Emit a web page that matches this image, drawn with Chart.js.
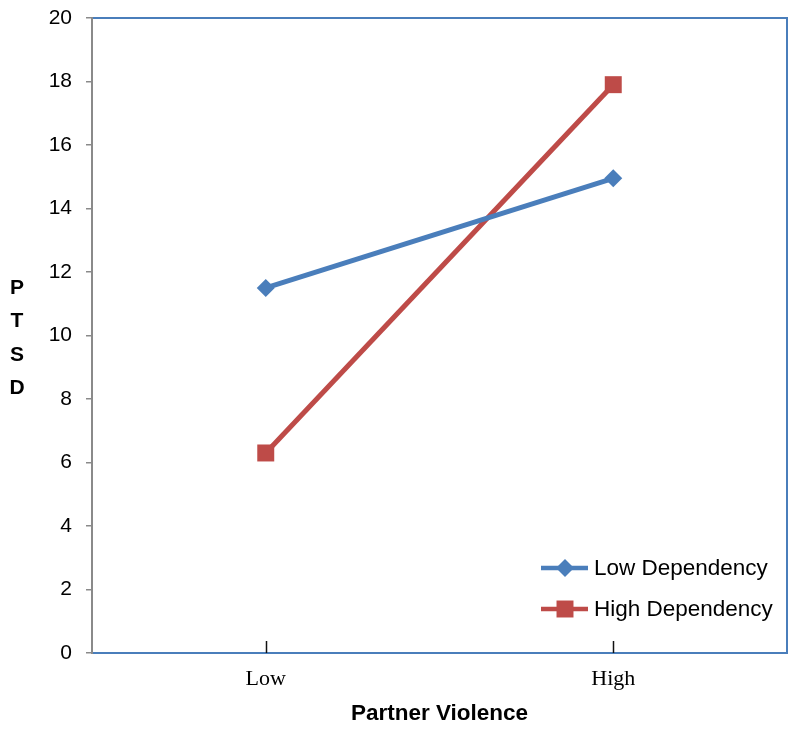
<!DOCTYPE html>
<html>
<head>
<meta charset="utf-8">
<script src="https://cdn.jsdelivr.net/npm/chart.js@4/dist/chart.umd.min.js"></script>
<style>
  html, body { margin: 0; padding: 0; background: #fff; }
  #wrap { width: 799px; height: 731px; }
</style>
</head>
<body>
<div id="wrap"><canvas id="ptsdChart"></canvas></div>
<script>
var categories = ['Low', 'High'];
var lowDependency = [11.5, 14.95];
var highDependency = [6.3, 17.9];
var yTicks = [0, 2, 4, 6, 8, 10, 12, 14, 16, 18, 20];

var blue = '#4A7EBB';
var red = '#BE4B48';

// frame, inner x ticks, stacked y title and the in-plot legend
var decorations = {
  id: 'decorations',
  afterDraw: function (chart) {
    var ctx = chart.ctx;
    var a = chart.chartArea;
    var xs = chart.scales.x;
    ctx.save();
    ctx.strokeStyle = blue;
    ctx.lineWidth = 2;
    ctx.beginPath();
    ctx.moveTo(a.left, a.top);
    ctx.lineTo(a.right, a.top);
    ctx.lineTo(a.right, a.bottom);
    ctx.lineTo(a.left, a.bottom);
    ctx.stroke();
    ctx.strokeStyle = '#8a8a8a';
    ctx.beginPath();
    ctx.moveTo(a.left, a.top - 1);
    ctx.lineTo(a.left, a.bottom + 1);
    ctx.stroke();

    ctx.strokeStyle = '#111';
    ctx.lineWidth = 1.5;
    for (var i = 0; i < categories.length; i++) {
      var px = Math.round(xs.getPixelForTick(i)) + 0.5;
      ctx.beginPath();
      ctx.moveTo(px, a.bottom - 12);
      ctx.lineTo(px, a.bottom);
      ctx.stroke();
    }

    ctx.fillStyle = '#000';
    ctx.font = 'bold 21px "Liberation Sans", Arial, sans-serif';
    ctx.textAlign = 'center';
    ctx.textBaseline = 'middle';
    var letters = ['P', 'T', 'S', 'D'];
    for (var j = 0; j < letters.length; j++) {
      ctx.fillText(letters[j], 17, 288 + j * 33.5);
    }

    var items = chart.data.datasets;
    ctx.font = '22.5px "Liberation Sans", Arial, sans-serif';
    ctx.textAlign = 'left';
    for (var k = 0; k < items.length; k++) {
      var y = 568 + k * 41;
      ctx.strokeStyle = items[k].borderColor;
      ctx.lineWidth = 4.5;
      ctx.beginPath();
      ctx.moveTo(541, y);
      ctx.lineTo(588, y);
      ctx.stroke();
      ctx.fillStyle = items[k].backgroundColor;
      Chart.helpers.drawPoint(ctx, {
        pointStyle: items[k].pointStyle,
        radius: items[k].pointRadius,
        borderWidth: 0
      }, 565, y);
      ctx.fillStyle = '#000';
      ctx.fillText(items[k].label, 594, y + 1);
    }
    ctx.restore();
  }
};

new Chart(document.getElementById('ptsdChart').getContext('2d'), {
  type: 'line',
  data: {
    labels: categories,
    datasets: [{
      label: 'Low Dependency',
      data: lowDependency,
      borderColor: blue,
      backgroundColor: blue,
      borderWidth: 5,
      pointStyle: 'rectRot',
      pointRadius: 9,
      pointBorderWidth: 0
    }, {
      label: 'High Dependency',
      data: highDependency,
      borderColor: red,
      backgroundColor: red,
      borderWidth: 5,
      pointStyle: 'rect',
      pointRadius: 12,
      pointBorderWidth: 0
    }]
  },
  options: {
    responsive: true,
    maintainAspectRatio: false,
    animation: false,
    layout: { padding: { top: 18, right: 6, left: 0, bottom: 0 } },
    plugins: {
      legend: { display: false },
      tooltip: { enabled: false }
    },
    scales: {
      x: {
        offset: true,
        grid: { display: false },
        border: { display: false },
        ticks: {
          color: '#000',
          padding: 5,
          font: { family: '"Liberation Serif", "Times New Roman", serif', size: 22 }
        },
        title: {
          display: true,
          text: 'Partner Violence',
          color: '#000',
          padding: { top: 10, bottom: 4 },
          font: { family: '"Liberation Sans", Arial, sans-serif', size: 22.5, weight: 'bold' }
        },
        afterFit: function (s) { s.height = 78; s.paddingLeft = 0; s.paddingRight = 0; }
      },
      y: {
        min: 0,
        max: 20,
        afterBuildTicks: function (s) {
          s.ticks = yTicks.map(function (v) { return { value: v }; });
        },
        grid: {
          drawOnChartArea: false,
          drawTicks: true,
          tickLength: 6,
          color: '#8a8a8a',
          lineWidth: 1.5
        },
        border: { display: false },
        ticks: {
          color: '#000',
          padding: 14,
          font: { family: '"Liberation Sans", Arial, sans-serif', size: 21 }
        },
        afterFit: function (s) { s.width = 92; s.paddingTop = 0; s.paddingBottom = 0; }
      }
    }
  },
  plugins: [decorations]
});
</script>
</body>
</html>
